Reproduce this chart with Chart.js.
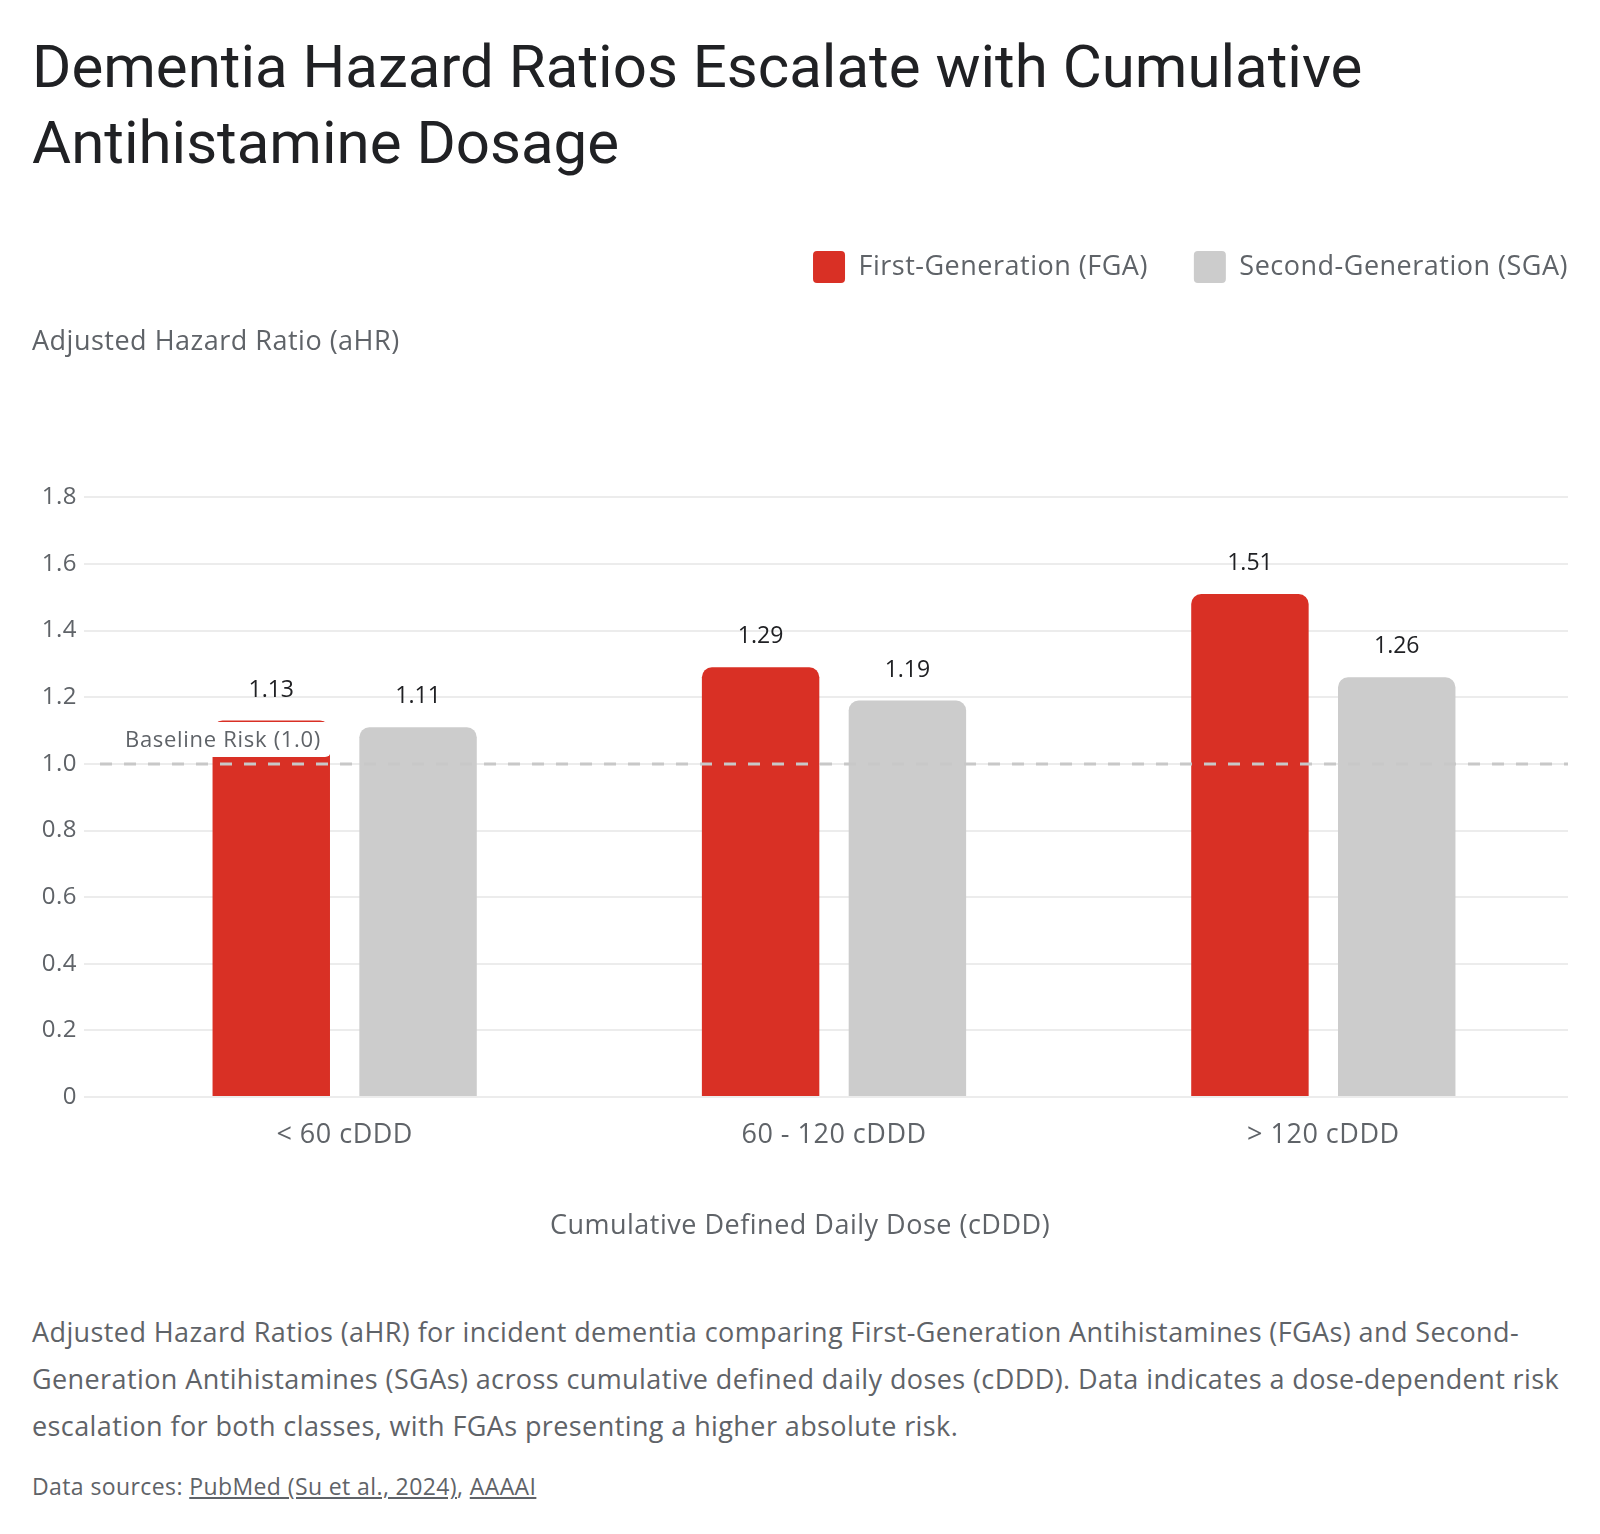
<!DOCTYPE html>
<html>
<head>
<meta charset="utf-8">
<title>Dementia Hazard Ratios</title>
<script src="https://cdn.jsdelivr.net/npm/chart.js@4.4.1/dist/chart.umd.min.js"></script>
<style>
  body { margin: 0; background: #fff; font-family: "Open Sans", sans-serif; overflow: hidden; }
  .page { width: 1536px; padding: 0 32px; }
  h1 { margin: 29px 0 0; font-family: Roboto, sans-serif; font-size: 60px; line-height: 76px; font-weight: 400; color: #202124; }
  .chart-box { position: relative; width: 1536px; height: 1078px; margin-top: 2px; }
  .caption { margin: 48px 0 0; font-size: 27px; letter-spacing: 0.4px; line-height: 46.8px; color: #5f6368; white-space: nowrap; }
  .sources { margin: 22px 0 0; font-size: 23px; letter-spacing: 0.4px; line-height: 30px; color: #5f6368; }
  .sources a { color: inherit; }
</style>
</head>
<body>
<div class="page">
  <h1>Dementia Hazard Ratios Escalate with Cumulative<br>Antihistamine Dosage</h1>
  <div class="chart-box"><canvas id="hrChart"></canvas></div>
  <p class="caption">Adjusted Hazard Ratios (aHR) for incident dementia comparing First-Generation Antihistamines (FGAs) and Second-<br>Generation Antihistamines (SGAs) across cumulative defined daily doses (cDDD). Data indicates a dose-dependent risk<br>escalation for both classes, with FGAs presenting a higher absolute risk.</p>
  <p class="sources">Data sources: <a href="#">PubMed (Su et al., 2024)</a>, <a href="#">AAAAI</a></p>
</div>

<script>
// chart data
const categories = ["< 60 cDDD", "60 - 120 cDDD", "> 120 cDDD"];
const fgaValues = [1.13, 1.29, 1.51];
const sgaValues = [1.11, 1.19, 1.26];
const yTickLabels = ["0", "0.2", "0.4", "0.6", "0.8", "1.0", "1.2", "1.4", "1.6", "1.8"];
const baselineValue = 1.0;
const baselineLabel = "Baseline Risk (1.0)";
const xAxisTitle = "Cumulative Defined Daily Dose (cDDD)";

const GREY_TEXT = "#5f6368";
const FONT = "'Open Sans', sans-serif";
const LETTER_SPACING = "0.5px";
Chart.defaults.font.family = FONT;

// slightly wider text tracking on the canvas
const textSpacing = {
  id: "textSpacing",
  beforeUpdate(chart) { chart.ctx.letterSpacing = LETTER_SPACING; },
  beforeDraw(chart) { chart.ctx.letterSpacing = LETTER_SPACING; }
};

// shift legend so the last item ends flush with the plot's right edge
const legendShift = {
  id: "legendShift",
  afterLayout(chart) {
    const pad = chart.options.plugins.legend.labels.padding;
    chart.legend.left += pad;
    chart.legend.right += pad;
  }
};

// dashed baseline with its label
const baselinePlugin = {
  id: "baseline",
  afterDatasetsDraw(chart) {
    const { ctx, chartArea, scales } = chart;
    const y = scales.y.getPixelForValue(baselineValue);
    ctx.save();
    ctx.strokeStyle = "#c8c8c8";
    ctx.lineWidth = 3;
    ctx.setLineDash([12, 12]);
    ctx.beginPath();
    ctx.moveTo(chartArea.left, y);
    ctx.lineTo(chartArea.right, y);
    ctx.stroke();
    ctx.setLineDash([]);

    ctx.font = "22px " + FONT;
    ctx.letterSpacing = "0.7px";
    const w = ctx.measureText(baselineLabel).width;
    const bw = w + 20, bh = 35;
    const bx = chartArea.left + 15, by = y - 7 - bh;
    ctx.fillStyle = "#ffffff";
    ctx.beginPath();
    ctx.roundRect(bx, by, bw, bh, 6);
    ctx.fill();
    ctx.fillStyle = GREY_TEXT;
    ctx.textBaseline = "middle";
    ctx.textAlign = "left";
    ctx.fillText(baselineLabel, bx + 10, by + bh / 2 + 1);
    ctx.restore();
  }
};

// value labels above bars
const valueLabels = {
  id: "valueLabels",
  afterDatasetsDraw(chart) {
    const { ctx } = chart;
    ctx.save();
    ctx.font = "23px " + FONT;
    ctx.letterSpacing = "0px";
    ctx.fillStyle = "#202124";
    ctx.textAlign = "center";
    ctx.textBaseline = "alphabetic";
    chart.data.datasets.forEach((ds, i) => {
      chart.getDatasetMeta(i).data.forEach((bar, j) => {
        ctx.fillText(ds.data[j].toFixed(2), bar.x, bar.y - 24);
      });
    });
    ctx.restore();
  }
};

// x axis title centred on the whole canvas, not just the plot area
const xTitlePlugin = {
  id: "xTitle",
  afterDraw(chart) {
    const { ctx } = chart;
    ctx.save();
    ctx.font = "27px " + FONT;
    ctx.letterSpacing = LETTER_SPACING;
    ctx.fillStyle = GREY_TEXT;
    ctx.textAlign = "center";
    ctx.textBaseline = "middle";
    ctx.fillText(xAxisTitle, chart.width / 2, chart.scales.x.bottom - 35);
    ctx.restore();
  }
};

const ctx = document.getElementById("hrChart").getContext("2d");
new Chart(ctx, {
  type: "bar",
  data: {
    labels: categories,
    datasets: [
      {
        label: "First-Generation (FGA)",
        data: fgaValues,
        backgroundColor: "#d93025",
        borderRadius: 10,
        categoryPercentage: 0.6,
        barPercentage: 0.8
      },
      {
        label: "Second-Generation (SGA)",
        data: sgaValues,
        backgroundColor: "#cccccc",
        borderRadius: 10,
        categoryPercentage: 0.6,
        barPercentage: 0.8
      }
    ]
  },
  plugins: [textSpacing, legendShift, baselinePlugin, valueLabels, xTitlePlugin],
  options: {
    responsive: true,
    maintainAspectRatio: false,
    animation: false,
    layout: { padding: { top: 22 } },
    plugins: {
      legend: {
        position: "top",
        align: "end",
        labels: {
          boxWidth: 32,
          boxHeight: 32,
          padding: 46,
          useBorderRadius: true,
          borderRadius: 4,
          color: GREY_TEXT,
          font: { size: 27 }
        }
      },
      title: {
        display: true,
        text: "Adjusted Hazard Ratio (aHR)",
        align: "start",
        weight: 500,
        color: GREY_TEXT,
        font: { size: 27, weight: "normal" },
        padding: { top: 33, bottom: 139 }
      },
      tooltip: { enabled: false }
    },
    scales: {
      x: {
        grid: { display: false, drawTicks: false },
        border: { display: false },
        ticks: { color: GREY_TEXT, font: { size: 27 }, padding: 22 },
        title: { display: false },
        afterFit(scale) { scale.height = 164; }
      },
      y: {
        min: 0,
        max: 1.8,
        ticks: {
          stepSize: 0.2,
          color: GREY_TEXT,
          font: { size: 24 },
          padding: 7,
          callback: (value, index) => yTickLabels[index]
        },
        grid: { color: "#ececec", lineWidth: 2, tickLength: 16 },
        border: { display: false },
        afterFit(scale) { scale.width = 68; }
      }
    }
  }
});
</script>
</body>
</html>
